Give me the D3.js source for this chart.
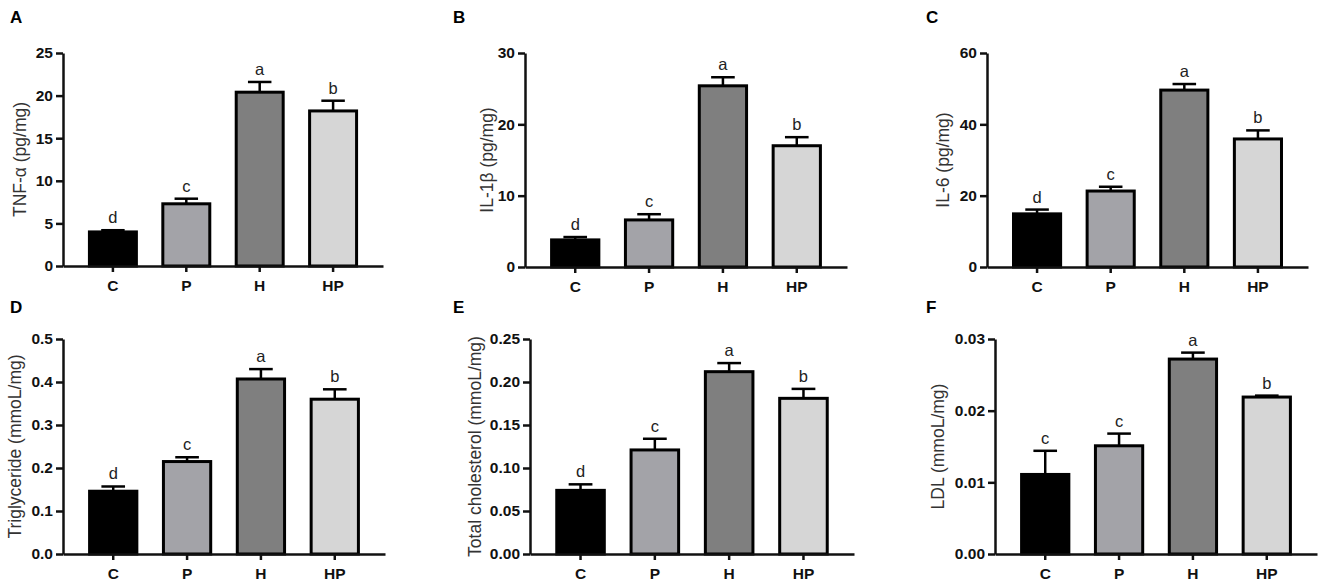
<!DOCTYPE html>
<html>
<head>
<meta charset="utf-8">
<script src="https://cdn.jsdelivr.net/npm/d3@7"></script>
<style>
  html, body { margin: 0; padding: 0; background: #fff; }
  svg { display: block; font-family: "Liberation Sans", Arial, sans-serif; }
  .axis text { font-size: 15.5px; font-weight: bold; fill: #111; }
  .axis path, .axis line { stroke: #111; stroke-width: 2.5; }
  .y-label { font-size: 17.5px; fill: #333; }
  .sig { font-size: 16.5px; fill: #222; }
  .panel-letter { font-size: 17px; font-weight: bold; fill: #000; }
</style>
</head>
<body>
<svg id="chart"></svg>
<script>
// groups shared by all six panels
const groups = ['C', 'P', 'H', 'HP'];

// A: TNF-α
const tnfMean = [4.0, 7.3, 20.4, 18.2];
const tnfErr = [0.2, 0.6, 1.2, 1.2];
const tnfSig = ['d', 'c', 'a', 'b'];
const tnfTicks = [0, 5, 10, 15, 20, 25];

// B: IL-1β
const il1Mean = [3.8, 6.6, 25.4, 17.0];
const il1Err = [0.4, 0.8, 1.2, 1.2];
const il1Sig = ['d', 'c', 'a', 'b'];
const il1Ticks = [0, 10, 20, 30];

// C: IL-6
const il6Mean = [14.9, 21.3, 49.6, 35.9];
const il6Err = [1.2, 1.2, 1.7, 2.4];
const il6Sig = ['d', 'c', 'a', 'b'];
const il6Ticks = [0, 20, 40, 60];

// D: triglyceride
const tgMean = [0.146, 0.215, 0.407, 0.360];
const tgErr = [0.011, 0.010, 0.023, 0.023];
const tgSig = ['d', 'c', 'a', 'b'];
const tgTicks = [0, 0.1, 0.2, 0.3, 0.4, 0.5];

// E: total cholesterol
const tcMean = [0.074, 0.121, 0.212, 0.181];
const tcErr = [0.007, 0.013, 0.010, 0.011];
const tcSig = ['d', 'c', 'a', 'b'];
const tcTicks = [0, 0.05, 0.10, 0.15, 0.20, 0.25];

// F: LDL
const ldlMean = [0.0111, 0.0151, 0.0272, 0.0219];
const ldlErr = [0.0033, 0.0017, 0.0009, 0.0002];
const ldlSig = ['c', 'c', 'a', 'b'];
const ldlTicks = [0, 0.01, 0.02, 0.03];

const barColors = ['#000000', '#a3a3a8', '#7f7f7f', '#d6d6d6'];

const width = 1325, height = 588;

// panel layout (axis origin, axis ends, label spots)
const panels = [
    { letter: 'A', label: 'TNF-α (pg/mg)', mean: tnfMean, err: tnfErr, sig: tnfSig, ticks: tnfTicks, fmt: d3.format('d'),
      x0: 63, x1: 383, yTop: 53, yBot: 266, labelX: 20, letterX: 10, letterY: 23 },
    { letter: 'B', label: 'IL-1β (pg/mg)', mean: il1Mean, err: il1Err, sig: il1Sig, ticks: il1Ticks, fmt: d3.format('d'),
      x0: 525, x1: 847, yTop: 53, yBot: 267, labelX: 487, letterX: 453, letterY: 23 },
    { letter: 'C', label: 'IL-6 (pg/mg)', mean: il6Mean, err: il6Err, sig: il6Sig, ticks: il6Ticks, fmt: d3.format('d'),
      x0: 987, x1: 1308, yTop: 53, yBot: 267, labelX: 943, letterX: 926, letterY: 23 },
    { letter: 'D', label: 'Triglyceride (mmoL/mg)', mean: tgMean, err: tgErr, sig: tgSig, ticks: tgTicks, fmt: d3.format('.1f'),
      x0: 63, x1: 385, yTop: 339, yBot: 554, labelX: 15, letterX: 10, letterY: 313 },
    { letter: 'E', label: 'Total cholesterol (mmoL/mg)', mean: tcMean, err: tcErr, sig: tcSig, ticks: tcTicks, fmt: d3.format('.2f'),
      x0: 530, x1: 854, yTop: 339, yBot: 554, labelX: 475, letterX: 453, letterY: 313 },
    { letter: 'F', label: 'LDL (mmoL/mg)', mean: ldlMean, err: ldlErr, sig: ldlSig, ticks: ldlTicks, fmt: d3.format('.2f'),
      x0: 995, x1: 1317, yTop: 339, yBot: 554, labelX: 938, letterX: 926, letterY: 313 }
];

const svg = d3.select('#chart')
    .attr('width', width)
    .attr('height', height);

panels.forEach(p => {
    const g = svg.append('g');
    const rows = groups.map((k, i) => ({ key: k, mean: p.mean[i], err: p.err[i], sig: p.sig[i], color: barColors[i] }));

    const xScale = d3.scaleBand()
        .domain(groups)
        .range([p.x0, p.x1])
        .paddingInner(0.36)
        .paddingOuter(0.36);

    const yScale = d3.scaleLinear()
        .domain([0, p.ticks[p.ticks.length - 1]])
        .range([p.yBot, p.yTop]);

    // bars
    g.selectAll('.bar')
        .data(rows)
        .join('rect')
        .attr('class', 'bar')
        .attr('x', d => xScale(d.key))
        .attr('width', xScale.bandwidth())
        .attr('y', d => yScale(d.mean))
        .attr('height', d => p.yBot - yScale(d.mean))
        .attr('fill', d => d.color)
        .attr('stroke', '#000')
        .attr('stroke-width', 3);

    // error bars (upper half only)
    const cx = d => xScale(d.key) + xScale.bandwidth() / 2;
    const capW = xScale.bandwidth() * 0.5;
    g.selectAll('.err-v')
        .data(rows)
        .join('line')
        .attr('x1', cx).attr('x2', cx)
        .attr('y1', d => yScale(d.mean))
        .attr('y2', d => yScale(d.mean + d.err))
        .attr('stroke', '#000').attr('stroke-width', 2.5);
    g.selectAll('.err-cap')
        .data(rows)
        .join('line')
        .attr('x1', d => cx(d) - capW / 2).attr('x2', d => cx(d) + capW / 2)
        .attr('y1', d => yScale(d.mean + d.err))
        .attr('y2', d => yScale(d.mean + d.err))
        .attr('stroke', '#000').attr('stroke-width', 2.5);

    // significance letters
    g.selectAll('.sig')
        .data(rows)
        .join('text')
        .attr('class', 'sig')
        .attr('text-anchor', 'middle')
        .attr('x', cx)
        .attr('y', d => yScale(d.mean + d.err) - 7)
        .text(d => d.sig);

    // axes
    g.append('g')
        .attr('class', 'axis y-axis')
        .attr('transform', `translate(${p.x0},0)`)
        .call(d3.axisLeft(yScale).tickValues(p.ticks).tickFormat(p.fmt)
            .tickSize(7).tickSizeOuter(0).tickPadding(3));

    g.append('g')
        .attr('class', 'axis x-axis')
        .attr('transform', `translate(0,${p.yBot})`)
        .call(d3.axisBottom(xScale).tickSize(6).tickSizeOuter(0).tickPadding(8));

    // y label
    g.append('text')
        .attr('class', 'y-label')
        .attr('text-anchor', 'middle')
        .attr('transform', `translate(${p.labelX},${(p.yTop + p.yBot) / 2}) rotate(-90)`)
        .attr('dy', '0.35em')
        .text(p.label);

    // panel letter
    g.append('text')
        .attr('class', 'panel-letter')
        .attr('x', p.letterX)
        .attr('y', p.letterY)
        .text(p.letter);
});
</script>
</body>
</html>
